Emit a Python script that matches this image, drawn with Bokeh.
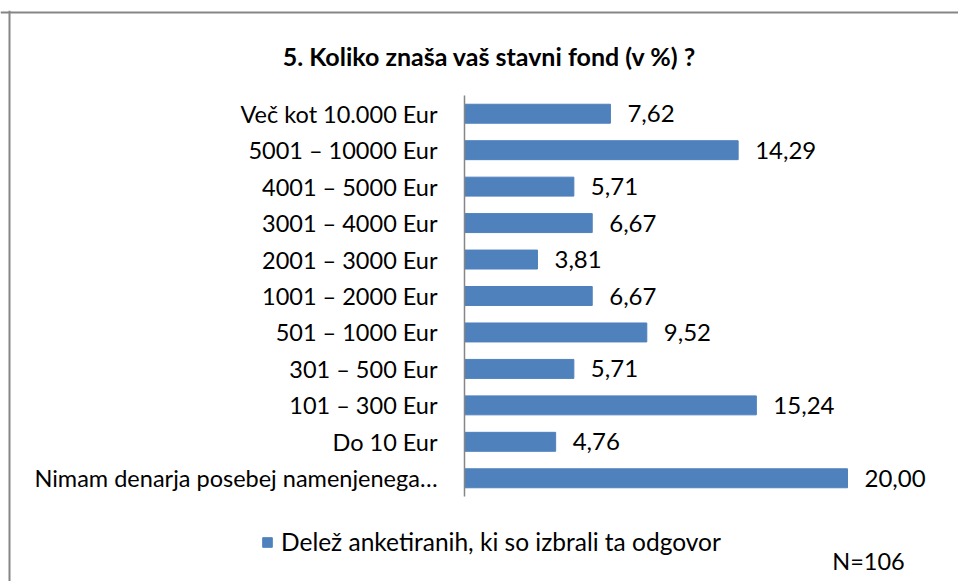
from bokeh.plotting import figure
from bokeh.models import FactorRange, Range1d, Legend, LegendItem, ColumnDataSource, Label, Span
from bokeh.core.properties import value
from bokeh.embed import file_html
from bokeh.resources import INLINE

title_text = "5. Koliko znaša vaš stavni fond (v %) ?"
categories = [
    "Več kot 10.000 Eur",
    "5001 – 10000 Eur",
    "4001 – 5000 Eur",
    "3001 – 4000 Eur",
    "2001 – 3000 Eur",
    "1001 – 2000 Eur",
    "501 – 1000 Eur",
    "301 – 500 Eur",
    "101 – 300 Eur",
    "Do 10 Eur",
    "Nimam denarja posebej namenjenega…",
]
values = [7.62, 14.29, 5.71, 6.67, 3.81, 6.67, 9.52, 5.71, 15.24, 4.76, 20.00]
value_labels = ["7,62", "14,29", "5,71", "6,67", "3,81", "6,67", "9,52", "5,71", "15,24", "4,76", "20,00"]
series_name = "Delež anketiranih, ki so izbrali ta odgovor"
note_text = "N=106"

FONT = "Lato"
BLUE = "#4F81BD"
GREY = "#868686"

# page geometry (pixels)
W, H = 958, 581
TOP = 10                 # frame top
AXIS_X = 464             # value 0 position
PX_PER_UNIT = 19.15      # pixels per percent
PAD_PX = 85              # space above/below the category band
n = len(categories)
frame_h = H - TOP
u = (frame_h - 2 * PAD_PX) / n          # pixels per category
pad_units = PAD_PX / u
band_top = TOP + PAD_PX                   # page y of synthetic y = n


def dx(px):
    return (px - AXIS_X) / PX_PER_UNIT


def dy(py):
    return n + (band_top - py) / u


src = ColumnDataSource(dict(cat=categories, val=values, lab=value_labels))

p = figure(width=W, height=H,
           y_range=FactorRange(factors=list(reversed(categories)),
                               range_padding=pad_units, range_padding_units="absolute"),
           x_range=Range1d(dx(0), dx(W)),
           output_backend="svg", toolbar_location=None,
           min_border_left=0, min_border_right=0,
           min_border_top=TOP, min_border_bottom=0)
p.outline_line_color = None
p.grid.visible = False
p.axis.visible = False

# chart border (left and top edges of the chart area)
p.add_layout(Span(location=dx(9), dimension="height", line_color=GREY, line_width=2))
p.add_layout(Span(location=dy(12), dimension="width", line_color=GREY, line_width=2))

# bars
r = p.hbar(y="cat", right="val", left=0, height=0.52, source=src,
           fill_color=BLUE, line_color=BLUE)

# category axis line and labels
p.segment(x0=[0], y0=[0], x1=[0], y1=[n], line_color=GREY, line_width=1.5)
p.text(x=0, y="cat", text="cat", source=src, x_offset=-27,
       text_align="right", text_baseline="middle",
       text_font=value(FONT), text_font_size="23.5px", text_color="#000000")

# value labels
p.text(x="val", y="cat", text="lab", source=src, x_offset=17,
       text_align="left", text_baseline="middle",
       text_font=value(FONT), text_font_size="24px", text_color="#000000")

# title
p.add_layout(Label(x=dx(489), y=dy(55), text=title_text,
                   text_align="center", text_baseline="middle",
                   text_font=FONT, text_font_style="bold", text_font_size="25px",
                   text_color="#000000"))

# sample size note
p.add_layout(Label(x=dx(868), y=dy(560), text=note_text,
                   text_align="center", text_baseline="middle",
                   text_font=FONT, text_font_size="23.5px", text_color="#000000"))

legend = Legend(items=[LegendItem(label=series_name, renderers=[r])],
                location=(261, 25), orientation="horizontal",
                padding=0, margin=0, border_line_color=None,
                background_fill_alpha=0, glyph_width=12, glyph_height=12,
                label_standoff=8, label_text_font=FONT,
                label_text_font_size="24.5px", label_text_color="#000000")
p.add_layout(legend, "center")

open("out.html", "w").write(file_html(p, INLINE))
